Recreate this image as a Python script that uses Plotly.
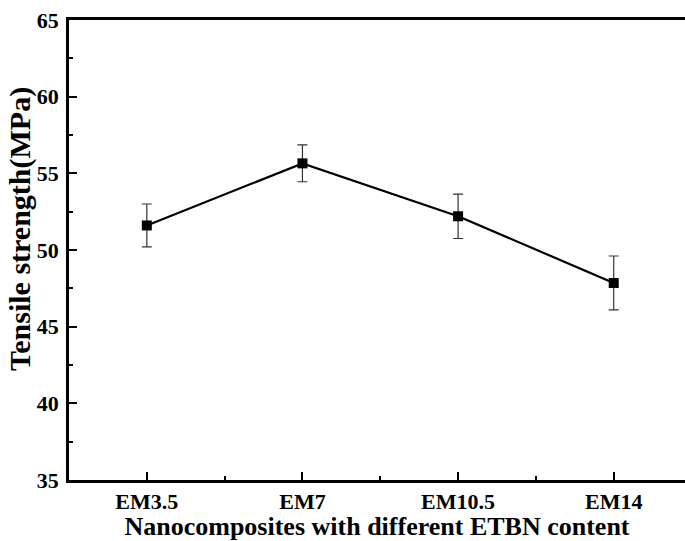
import plotly.graph_objects as go

categories = ["EM3.5", "EM7", "EM10.5", "EM14"]
strength = [51.6, 55.65, 52.2, 47.85]
strength_err = [1.4, 1.2, 1.45, 1.76]
y_ticks = [35, 40, 45, 50, 55, 60, 65]

x_pos = list(range(len(categories)))
font_family = "Liberation Serif"

fig = go.Figure()
fig.add_trace(go.Scatter(
    x=x_pos, y=strength,
    mode="lines+markers",
    line=dict(color="black", width=2.2),
    marker=dict(symbol="square", size=10, color="black"),
    error_y=dict(type="data", array=strength_err, visible=True,
                 color="#333333", thickness=1.2, width=5),
    showlegend=False,
))

fig.update_layout(
    width=685, height=541,
    margin=dict(l=69, r=0, t=20, b=61),
    paper_bgcolor="white", plot_bgcolor="white",
    font=dict(family=font_family, color="black"),
)

fig.update_xaxes(
    range=[-0.5, 3.458],
    tickmode="array", tickvals=x_pos,
    ticktext=[f"<b>{c}</b>" for c in categories],
    ticks="inside", ticklen=8, tickwidth=2, tickcolor="black",
    minor=dict(tickvals=[0.5, 1.5, 2.5], ticks="inside", ticklen=4,
               tickwidth=2, tickcolor="black"),
    showline=True, linecolor="black", linewidth=2.5, mirror=True,
    showgrid=False, zeroline=False,
    tickfont=dict(family=font_family, size=22, color="black"),
    title=dict(text="<b>Nanocomposites with different ETBN content</b>",
               font=dict(family=font_family, size=26, color="black"),
               standoff=0),
)

fig.update_yaxes(
    range=[35, 65],
    tickmode="array", tickvals=y_ticks,
    ticktext=[f"<b>{v}</b>" for v in y_ticks],
    ticks="inside", ticklen=8, tickwidth=2, tickcolor="black",
    minor=dict(tickvals=[37.5, 42.5, 47.5, 52.5, 57.5, 62.5], ticks="inside",
               ticklen=4, tickwidth=2, tickcolor="black"),
    showline=True, linecolor="black", linewidth=2.5, mirror=False,
    showgrid=False, zeroline=False,
    ticklabelstandoff=3,
    tickfont=dict(family=font_family, size=22, color="black"),
)

fig.add_annotation(
    text="<b>Tensile strength(MPa)</b>",
    xref="paper", yref="paper", x=-0.0795, y=0.5457,
    xanchor="center", yanchor="middle", textangle=-90, showarrow=False,
    font=dict(family=font_family, size=30, color="black"),
)

fig.write_html("out.html")
